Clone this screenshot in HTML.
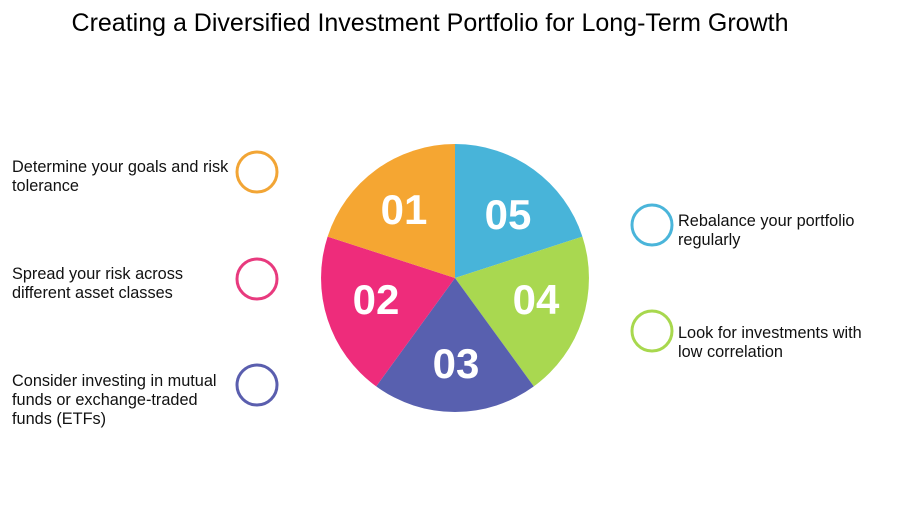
<!DOCTYPE html>
<html><head><meta charset="utf-8"><style>
body{margin:0;background:#fff;width:900px;height:506px;overflow:hidden;font-family:"Liberation Sans",sans-serif}
.t{position:absolute;font-size:16.3px;line-height:19px;color:#111}
</style></head><body>
<div style="position:absolute;left:0;width:860px;top:9px;text-align:center;font-size:25px;color:#000">Creating a Diversified Investment Portfolio for Long-Term Growth</div>
<svg width="900" height="506" style="position:absolute;left:0;top:0">
<path d="M455,278 L455,144 A134,134 0 0 1 582.4,236.6Z" fill="#48B4D9"/>
<path d="M455,278 L582.4,236.6 A134,134 0 0 1 533.8,386.4Z" fill="#A9D850"/>
<path d="M455,278 L533.8,386.4 A134,134 0 0 1 376.2,386.4Z" fill="#5860AF"/>
<path d="M455,278 L376.2,386.4 A134,134 0 0 1 327.6,236.6Z" fill="#EE2C7B"/>
<path d="M455,278 L327.6,236.6 A134,134 0 0 1 455,144Z" fill="#F5A632"/>
<g fill="#fff" font-weight="bold" font-size="42" text-anchor="middle" font-family="Liberation Sans,sans-serif">
<text x="404" y="224">01</text><text x="508" y="229">05</text><text x="536" y="314">04</text><text x="376" y="314">02</text><text x="456" y="378">03</text>
</g>
<g fill="none" stroke-width="3">
<circle cx="257" cy="172" r="20" stroke="#F2A535"/>
<circle cx="257" cy="279" r="20" stroke="#E83A7E"/>
<circle cx="257" cy="385" r="20" stroke="#5A5EAE"/>
<circle cx="652" cy="225" r="20" stroke="#4AB5DA"/>
<circle cx="652" cy="331" r="20" stroke="#A8D84E"/>
</g>
</svg>
<div class="t" style="left:12px;top:158px">Determine your goals and risk<br>tolerance</div>
<div class="t" style="left:12px;top:265px">Spread your risk across<br>different asset classes</div>
<div class="t" style="left:12px;top:372px">Consider investing in mutual<br>funds or exchange-traded<br>funds (ETFs)</div>
<div class="t" style="left:678px;top:212px">Rebalance your portfolio<br>regularly</div>
<div class="t" style="left:678px;top:324px">Look for investments with<br>low correlation</div>
</body></html>
